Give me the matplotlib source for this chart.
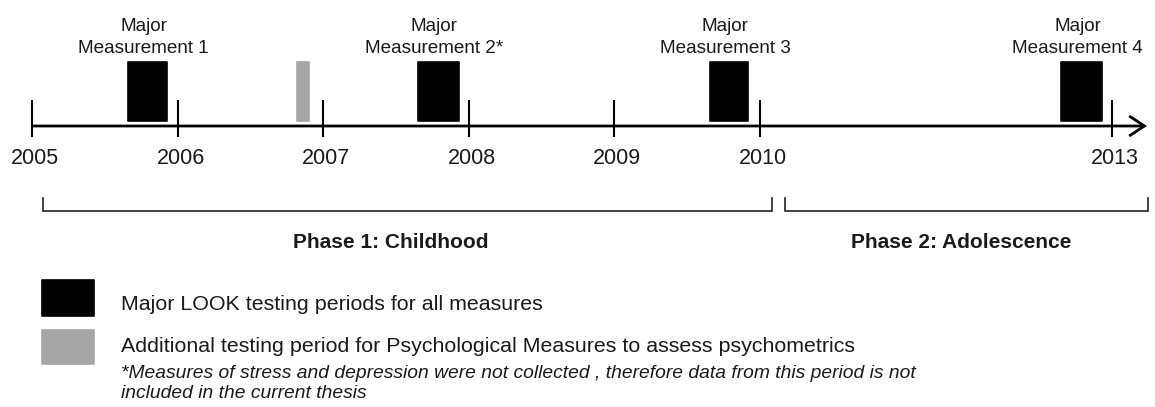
import matplotlib
matplotlib.use("Agg")
import matplotlib.pyplot as plt
from matplotlib.patches import Rectangle, FancyArrowPatch

plt.rcParams['font.family'] = ['Liberation Sans', 'DejaVu Sans']

# ---- data ----
tick_years = [2005, 2006, 2007, 2008, 2009, 2010, 2013]
tick_labels = ["2005", "2006", "2007", "2008", "2009", "2010", "2013"]
major_labels = ["Major\nMeasurement 1", "Major\nMeasurement 2*",
                "Major\nMeasurement 3", "Major\nMeasurement 4"]
major_start = [2005.66, 2007.65, 2009.66, 2012.565]
major_end = [2005.93, 2007.93, 2009.92, 2012.915]
extra_start = [2006.82]
extra_end = [2006.90]
phase_labels = ["Phase 1: Childhood", "Phase 2: Adolescence"]
legend_labels = ["Major LOOK testing periods for all measures",
                 "Additional testing period for Psychological Measures to assess psychometrics"]
note_lines = ["*Measures of stress and depression were not collected , therefore data from this period is not",
              "included in the current thesis"]

BLACK = "#000000"
GREY = "#a6a6a6"
TXT = "#1a1a1a"

W, H = 1155, 407
fig = plt.figure(figsize=(W / 100, H / 100), dpi=100)

# timeline axes: x in years (compressed after 2010), y in pixels (top = 0)
PX_PER_YEAR = 145.6
X0_PX = 32.0
SQUEEZE = (1112 - 760) / PX_PER_YEAR / 3.0


def squeeze(y):
    return y if y <= 2010 else 2010 + (y - 2010) * SQUEEZE


ax = fig.add_axes([0, 0, 1, 1])
ax.set_xlim(2005 - X0_PX / PX_PER_YEAR, 2005 + (W - X0_PX) / PX_PER_YEAR)
ax.set_ylim(H, 0)
ax.axis("off")

# layout overlay in pixels
lay = fig.add_axes([0, 0, 1, 1])
lay.set_xlim(0, W)
lay.set_ylim(H, 0)
lay.axis("off")
lay.patch.set_alpha(0)

# main axis line with open arrow
arrow = FancyArrowPatch((X0_PX, 126), (1147, 126),
                        arrowstyle="->,head_length=11,head_width=7.2",
                        mutation_scale=1, lw=2.0, color=BLACK,
                        shrinkA=0, shrinkB=0, capstyle="butt", joinstyle="miter")
lay.add_patch(arrow)

# ticks and year labels
for yr, lab in zip(tick_years, tick_labels):
    x = squeeze(yr)
    ax.plot([x, x], [100, 137], color=BLACK, lw=1.5, solid_capstyle="butt")
    ax.text(x + 3 / PX_PER_YEAR, 159, lab, ha="center", va="center",
            fontsize=15.5, color=TXT)

# major measurement boxes
for s, e, lab in zip(major_start, major_end, major_labels):
    xs, xe = squeeze(s), squeeze(e)
    ax.add_patch(Rectangle((xs, 62), xe - xs, 59, facecolor=BLACK,
                           edgecolor=BLACK, lw=1.2, joinstyle="round"))
    ax.text((xs + xe) / 2 - 4 / PX_PER_YEAR, 37.5, lab, ha="center", va="center",
            fontsize=13.6, color=TXT, linespacing=1.4, multialignment="center")

# additional testing period
for s, e in zip(extra_start, extra_end):
    xs, xe = squeeze(s), squeeze(e)
    ax.add_patch(Rectangle((xs, 62), xe - xs, 59, facecolor=GREY,
                           edgecolor=GREY, lw=1.2, joinstyle="round"))

# phase brackets
for (xa, xb), lab, cx in zip([(43, 772), (785, 1148)], phase_labels, [391, 961]):
    lay.plot([xa, xa, xb, xb], [198, 211, 211, 198], color="#222222", lw=1.2,
             solid_joinstyle="miter")
    lay.text(cx, 243, lab, ha="center", va="center", fontsize=15,
             fontweight="bold", color=TXT)

# legend
for (y0, y1), col, lab, ty in zip([(280, 316), (330, 364)], [BLACK, GREY],
                                  legend_labels, [304, 347]):
    lay.add_patch(Rectangle((42, y0), 52, y1 - y0, facecolor=col, edgecolor=col,
                            lw=1.2, joinstyle="round"))
    lay.text(121, ty, lab, ha="left", va="center", fontsize=15.4, color=TXT)

for line, ty in zip(note_lines, [373, 393]):
    lay.text(121, ty, line, ha="left", va="center", fontsize=13.9,
             fontstyle="italic", color=TXT)

fig.savefig("out.png", dpi=100)
